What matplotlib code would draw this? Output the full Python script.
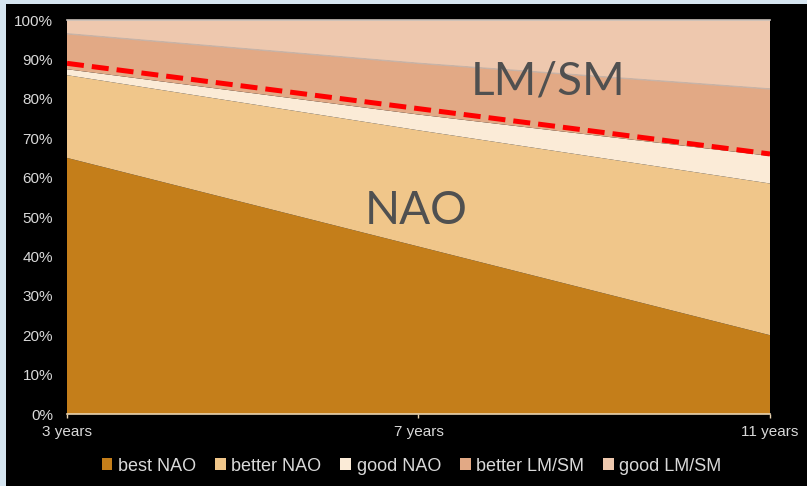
import matplotlib.pyplot as plt
from matplotlib.patches import Rectangle, Patch

# share of each tier, stacked bottom to top
periods = ['3 years', '7 years', '11 years']
best_nao = [65.0, 42.5, 20.0]
better_nao = [21.0, 29.5, 38.5]
good_nao = [1.5, 4.0, 7.0]
better_lmsm = [9.0, 13.0, 17.0]
good_lmsm = [3.5, 11.0, 17.5]
threshold = [89.0, 77.5, 66.0]

series_names = ['best NAO', 'better NAO', 'good NAO', 'better LM/SM', 'good LM/SM']
colors = ['#C47E1A', '#F0C68A', '#FBEBD7', '#E2A985', '#EEC8AE']

plt.rcParams['font.family'] = ['Liberation Sans', 'DejaVu Sans']

fig = plt.figure(figsize=(8.07, 4.86), dpi=100, facecolor='#D5E5F0')
backdrop = Rectangle((6 / 807, 0), 1, 1 - 4 / 486, transform=fig.transFigure,
                     facecolor='black', edgecolor='none', zorder=-10)
fig.add_artist(backdrop)

ax = fig.add_axes([67 / 807, 72 / 486, 703 / 807, 394 / 486])
ax.set_facecolor('black')
ax.set_zorder(1)

x = list(range(len(periods)))
ax.stackplot(x, best_nao, better_nao, good_nao, better_lmsm, good_lmsm,
             colors=colors, linewidth=0)

# thin boundary lines at the top of the LM/SM bands
tops_better = [a + b + c + d for a, b, c, d in zip(best_nao, better_nao, good_nao, better_lmsm)]
tops_all = [t + g for t, g in zip(tops_better, good_lmsm)]
ax.plot(x, tops_better, color='#C8B4A8', linewidth=1.0)
ax.plot(x, tops_all, color='#C8C0BA', linewidth=1.2, clip_on=False)

ax.plot(x, threshold, color='#FF0000', linewidth=3.6, linestyle=(0, (3.4, 1.6)))

ax.text(0.993, 51.5, 'NAO', ha='center', va='center', fontsize=33,
        family=['Lato', 'DejaVu Sans'], color='#505050')
ax.text(1.368, 84.5, 'LM/SM', ha='center', va='center', fontsize=33,
        family=['Lato', 'DejaVu Sans'], color='#505050')

ax.set_xlim(0, 2)
ax.set_ylim(0, 100)
ax.set_xticks(x)
ax.set_xticklabels(periods)
ax.set_yticks(range(0, 101, 10))
ax.set_yticklabels([f'{v}%' for v in range(0, 101, 10)])

for s in ['top', 'right', 'left']:
    ax.spines[s].set_visible(False)
ax.spines['bottom'].set_color('#E8D3B0')
ax.spines['bottom'].set_linewidth(1.2)
ax.tick_params(axis='x', colors='#D9D9D9', length=3, width=1, pad=5, labelsize=11)
ax.tick_params(axis='x', color='#E8D3B0')
ax.tick_params(axis='y', colors='#D9D9D9', length=0, pad=10, labelsize=11)

handles = [Patch(facecolor=c, edgecolor='none') for c in colors]
fig.legend(handles, series_names, loc='center', bbox_to_anchor=(0.51, 1 - 466 / 486),
           ncol=5, frameon=False, fontsize=13, labelcolor='#D9D9D9',
           handlelength=0.6, handleheight=0.6, handletextpad=0.3, columnspacing=1.05)

fig.savefig('out.png', dpi=100, facecolor=fig.get_facecolor())
